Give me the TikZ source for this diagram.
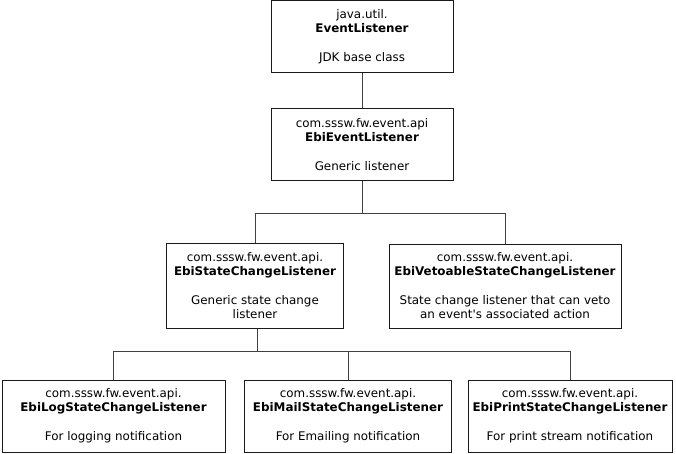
\documentclass[tikz,border=0pt]{standalone}
\usepackage{fontspec}
\setmainfont{DejaVu Sans}
\usetikzlibrary{positioning}
\usepackage{xcolor}
\definecolor{boxrule}{HTML}{1A1A1A}
\definecolor{linkrule}{HTML}{404040}

\begin{document}
\begin{tikzpicture}[
  x=1pt, y=-1pt,
  font=\fontsize{11.9}{14}\selectfont, node distance=35pt,
  classbox/.style={draw=boxrule, line width=1pt, fill=white, align=center,
                   minimum height=72pt, inner sep=0pt},
  link/.style={draw=linkrule, line width=1pt},
]
\useasboundingbox (0,0) rectangle (676,453);

\node[classbox, minimum width=182pt] (top) at (362,36.5)
  {java.util.\\\textbf{EventListener}\\[15pt]JDK base class};
\node[classbox, minimum width=182pt, below=of top] (api)
  {com.sssw.fw.event.api\\\textbf{EbiEventListener}\\[15pt]Generic listener};

\node[classbox, minimum width=177pt, minimum height=85pt] (state) at (255,285.5)
  {com.sssw.fw.event.api.\\\textbf{EbiStateChangeListener}\\[15pt]Generic state change\\listener};
\node[classbox, minimum width=232pt, minimum height=84pt] (veto) at (505,286)
  {com.sssw.fw.event.api.\\\textbf{EbiVetoableStateChangeListener}\\[15pt]State change listener that can veto\\an event\textquotesingle s associated action};

\node[classbox, minimum width=223pt] (log) at (113.5,416)
  {com.sssw.fw.event.api.\\\textbf{EbiLogStateChangeListener}\\[15pt]For logging notification};
\node[classbox, minimum width=207pt] (mail) at (348,416)
  {com.sssw.fw.event.api.\\\textbf{EbiMailStateChangeListener}\\[15pt]For Emailing notification};
\node[classbox, minimum width=204pt] (print) at (570,416)
  {com.sssw.fw.event.api.\\\textbf{EbiPrintStateChangeListener}\\[15pt]For print stream notification};

% bus junctions
\coordinate (j1) at (362,213);
\coordinate (j2) at (257,351);

\draw[link] (top) -- (api);
\draw[link] (api) -- (j1);
\foreach \b in {state, veto}
  \draw[link] (j1) -| (\b);
\draw[link] ([xshift=2pt]state.south) -- (j2);
\foreach \b in {log, mail, print}
  \draw[link] (j2) -| (\b);

\end{tikzpicture}
\end{document}
